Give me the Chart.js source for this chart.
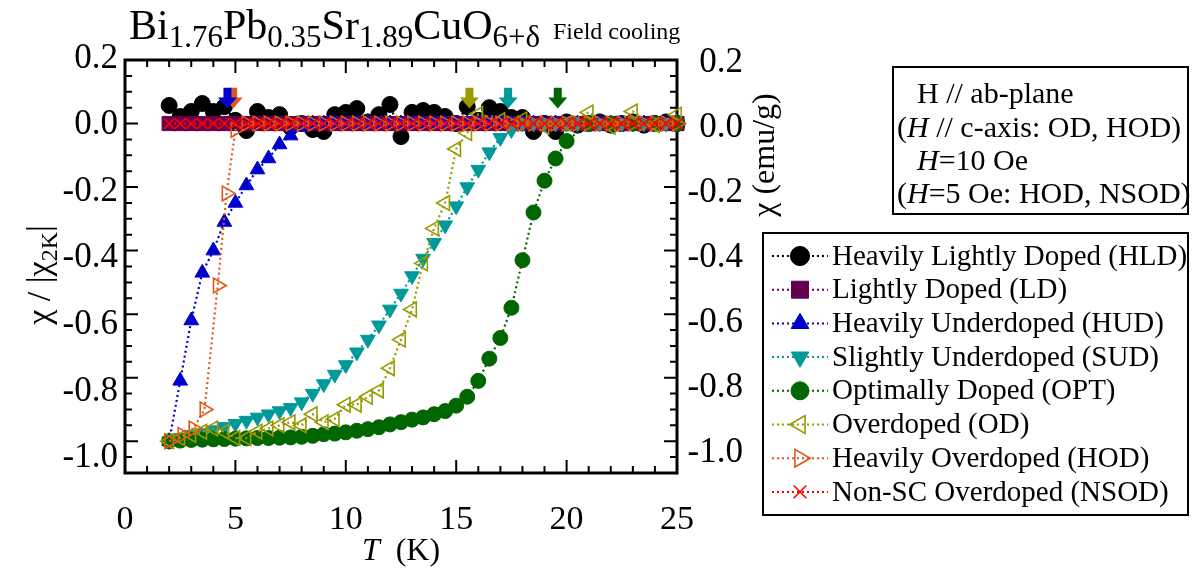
<!DOCTYPE html>
<html>
<head>
<meta charset="utf-8">
<title>Bi2201 field cooling</title>
<script src="https://cdn.jsdelivr.net/npm/chart.js@4.4.1/dist/chart.umd.min.js"></script>
<style>
  html, body { margin: 0; padding: 0; background: #fff; }
  #box { width: 1199px; height: 570px; }
</style>
</head>
<body>
<div id="box"><canvas id="chiChart"></canvas></div>
<script>
// temperature grid (K) shared by most samples
const tGrid = [2, 2.5, 3, 3.5, 4, 4.5, 5, 5.5, 6, 6.5, 7, 7.5, 8, 8.5, 9, 9.5, 10, 10.5, 11, 11.5,
  12, 12.5, 13, 13.5, 14, 14.5, 15, 15.5, 16, 16.5, 17, 17.5, 18, 18.5, 19, 19.5, 20, 20.5, 21, 21.5,
  22, 22.5, 23, 23.5, 24, 24.5, 25];

const hldValues = [0.057, 0.022, 0.038, 0.063, 0.038, 0.053, 0.010, -0.022, 0.038, 0.019,
  0.028, -0.012, 0.000, -0.019, -0.025, 0.028, 0.035, 0.047, 0.005, 0.028,
  0.060, -0.041, 0.035, 0.041, 0.035, 0.022, 0.000, 0.053, 0.010, 0.050,
  0.038, 0.019, 0.019, -0.025, 0.000, -0.025, 0.005, -0.005, 0.000, 0.005,
  -0.005, 0.000, 0.005, -0.005, 0.000, 0.005, 0.000];

const ldValues = [0, 0, 0, 0, 0, 0, 0, 0, 0, 0, 0, 0, 0, 0, 0, 0, 0, 0, 0, 0,
  0, 0, 0, 0, 0, 0, 0, 0, 0, 0, 0, 0, 0, 0, 0, 0, 0, 0, 0, 0, 0, 0, 0, 0, 0, 0, 0];

const hudValues = [-1.0, -0.81, -0.62, -0.47, -0.40, -0.31, -0.25, -0.195, -0.145, -0.11,
  -0.066, -0.038, -0.01, 0, 0, 0, 0, 0, 0, 0,
  0, 0, 0, 0, 0, 0, 0, 0, 0, 0, 0, 0, 0, 0, 0, 0, 0, 0, 0, 0, 0, 0, 0, 0, 0, 0, 0];

const sudValues = [-1.0, -0.99, -0.98, -0.975, -0.965, -0.955, -0.945, -0.935, -0.925, -0.915,
  -0.905, -0.895, -0.877, -0.85, -0.82, -0.79, -0.76, -0.72, -0.68, -0.635,
  -0.585, -0.535, -0.48, -0.425, -0.375, -0.32, -0.26, -0.2, -0.145, -0.09,
  -0.045, -0.02, 0, 0, 0, 0, 0, 0, 0, 0, 0, 0, 0, 0, 0, 0, 0];

const optT = [2, 2.5, 3, 3.5, 4, 4.5, 5, 5.5, 6, 6.5, 7, 7.5, 8, 8.5, 9, 9.5, 10, 10.5, 11, 11.5,
  12, 12.5, 13, 13.5, 14, 14.5, 15, 15.5, 16, 16.5, 17, 17.5, 18, 18.5, 19, 19.5, 20,
  21, 22, 23, 24, 25];
const optValues = [-1.0, -0.998, -0.996, -0.995, -0.994, -0.993, -0.992, -0.991, -0.990, -0.990,
  -0.989, -0.988, -0.986, -0.983, -0.978, -0.976, -0.972, -0.967, -0.962, -0.956,
  -0.947, -0.940, -0.932, -0.925, -0.915, -0.905, -0.888, -0.860, -0.810, -0.740,
  -0.675, -0.580, -0.430, -0.280, -0.180, -0.110, -0.055,
  0, 0, 0, 0, 0];

const odT = [2, 2.5, 3, 3.5, 4, 4.5, 5, 5.5, 6, 6.5, 7, 7.5, 8, 8.5, 9, 9.5, 10, 10.5, 11, 11.5,
  12, 12.5, 13, 13.5, 14, 14.5, 15, 15.5, 16,
  17, 18, 19, 20, 21, 22, 23, 24, 25];
const odValues = [-1.0, -0.99, -0.98, -0.97, -0.96, -0.97, -0.99, -0.99, -0.97, -0.96,
  -0.95, -0.94, -0.95, -0.915, -0.94, -0.93, -0.885, -0.885, -0.86, -0.84,
  -0.77, -0.68, -0.585, -0.44, -0.33, -0.25, -0.08, -0.03, 0.03,
  0.01, 0.013, -0.01, 0.0, 0.035, -0.01, 0.038, -0.005, 0.028];

const hodT = [2, 2.6, 3.1, 3.6, 4.2, 4.6, 5, 5.5, 6, 6.5, 7, 7.5, 8, 8.5, 9, 9.5, 10, 10.5, 11, 11.5,
  12, 12.5, 13, 13.5, 14, 14.5, 15, 15.5, 16, 16.5, 17, 17.5, 18, 18.5, 19, 19.5, 20, 20.5, 21, 21.5,
  22, 22.5, 23, 23.5, 24, 24.5, 25];
const hodValues = [-1.0, -0.98, -0.96, -0.90, -0.51, -0.22, -0.02, 0, 0, 0,
  0, 0, 0, 0, 0, 0, 0, 0, 0, 0, 0, 0, 0, 0, 0, 0, 0, 0, 0, 0,
  0, 0, 0, 0, 0, 0, 0, 0, 0, 0, 0, 0, 0, 0, 0, 0, 0];

const nsodValues = [0, 0, 0, 0, 0, 0, 0, 0, 0, 0, 0, 0, 0, 0, 0, 0, 0, 0, 0, 0,
  0, 0, 0, 0, 0, 0, 0, 0, 0, 0, 0, 0, 0, 0, 0, 0, 0, 0, 0, 0, 0, 0, 0, 0, 0, 0, 0];

const seriesNames = ["Heavily Lightly Doped (HLD)", "Lightly Doped (LD)", "Heavily Underdoped (HUD)",
  "Slightly Underdoped (SUD)", "Optimally Doped (OPT)", "Overdoped (OD)",
  "Heavily Overdoped (HOD)", "Non-SC Overdoped (NSOD)"];

// Tc arrows at the top of the plot
const tcArrowT = [4.9, 4.64, 15.6, 17.35, 19.6];
const tcArrowColors = ["#dd5a1a", "#0000cc", "#999900", "#009999", "#006600"];

const xTickValues = [0, 5, 10, 15, 20, 25];
const yTickValues = [0.2, 0.0, -0.2, -0.4, -0.6, -0.8, -1.0];

const FONT = "'Liberation Serif', 'DejaVu Serif', serif";

function pts(ts, vs) {
  return ts.map((t, i) => ({ x: t, y: vs[i] }));
}

function series(i, ts, vs, color, style, radius, rotation, open) {
  return {
    label: seriesNames[i],
    data: pts(ts, vs),
    yAxisID: "y",
    showLine: true,
    borderColor: color,
    borderWidth: 2.2,
    borderDash: [2, 3],
    backgroundColor: open ? "rgba(0,0,0,0)" : color,
    pointStyle: style,
    pointRadius: radius,
    pointRotation: rotation,
    pointBorderColor: color,
    pointBackgroundColor: open ? "rgba(0,0,0,0)" : color,
    pointBorderWidth: open || style === "crossRot" ? 1.6 : 1,
    order: 8 - i,
    clip: false,
    tension: 0
  };
}

const datasets = [
  series(0, tGrid, hldValues, "#000000", "circle", 8, 0, false),
  series(1, tGrid, ldValues, "#640050", "rect", 10, 0, false),
  series(2, tGrid, hudValues, "#0000cc", "triangle", 8.5, 0, false),
  series(3, tGrid, sudValues, "#009999", "triangle", 8.5, 180, false),
  series(4, optT, optValues, "#006600", "circle", 7.5, 0, false),
  series(5, odT, odValues, "#999900", "triangle", 8.5, -90, true),
  series(6, hodT, hodValues, "#dd5a1a", "triangle", 8.5, 90, true),
  series(7, tGrid, nsodValues, "#ff0000", "crossRot", 7.5, 0, true)
];

// draw text made of pieces (sub/italic)
function richWidth(ctx, parts) {
  let w = 0;
  parts.forEach(p => { ctx.font = p.font; w += ctx.measureText(p.t).width; });
  return w;
}
function drawRich(ctx, parts, x, y) {
  parts.forEach(p => {
    ctx.font = p.font;
    ctx.fillText(p.t, x, y + (p.dy || 0));
    x += ctx.measureText(p.t).width;
  });
}

const decor = {
  id: "decor",
  beforeDatasetsDraw(chart) {
    const { ctx, chartArea: a, scales: { x, y } } = chart;
    ctx.save();
    ctx.strokeStyle = "#000";
    ctx.lineWidth = 2;
    ctx.beginPath();
    for (let t = 1; t < 25; t++) {
      const px = x.getPixelForValue(t);
      const len = t % 5 === 0 ? 13 : 7;
      ctx.moveTo(px, a.bottom); ctx.lineTo(px, a.bottom - len);
      ctx.moveTo(px, a.top); ctx.lineTo(px, a.top + len);
    }
    for (let k = -21; k <= 3; k++) {
      const v = k * 0.05;
      const py = y.getPixelForValue(v);
      const len = k % 4 === 0 ? 13 : 7;
      ctx.moveTo(a.left, py); ctx.lineTo(a.left + len, py);
      ctx.moveTo(a.right, py); ctx.lineTo(a.right - len, py);
    }
    ctx.stroke();
    ctx.lineWidth = 3;
    ctx.strokeRect(a.left, a.top, a.right - a.left, a.bottom - a.top);
    ctx.restore();
  },
  afterDatasetsDraw(chart) {
    const { ctx, scales: { x, y } } = chart;
    const tip = y.getPixelForValue(0.047);
    const neck = y.getPixelForValue(0.082);
    const top = y.getPixelForValue(0.113);
    ctx.save();
    tcArrowT.forEach((t, i) => {
      const px = x.getPixelForValue(t);
      ctx.fillStyle = tcArrowColors[i];
      ctx.beginPath();
      ctx.moveTo(px - 4, top); ctx.lineTo(px + 4, top); ctx.lineTo(px + 4, neck);
      ctx.lineTo(px + 9.5, neck); ctx.lineTo(px, tip); ctx.lineTo(px - 9.5, neck);
      ctx.lineTo(px - 4, neck); ctx.closePath();
      ctx.fill();
    });
    ctx.restore();
  },
  afterDraw(chart) {
    const { ctx } = chart;
    ctx.save();
    ctx.fillStyle = "#000";
    ctx.textBaseline = "alphabetic";
    ctx.textAlign = "left";

    // title
    const big = "42px " + FONT, sub = "31px " + FONT;
    drawRich(ctx, [
      { t: "Bi", font: big }, { t: "1.76", font: sub, dy: 8 },
      { t: "Pb", font: big }, { t: "0.35", font: sub, dy: 8 },
      { t: "Sr", font: big }, { t: "1.89", font: sub, dy: 8 },
      { t: "CuO", font: big }, { t: "6+\u03b4", font: sub, dy: 8 }
    ], 129, 39);
    ctx.font = "24px " + FONT;
    ctx.fillText("Field cooling", 553, 39);

    // x title
    const xt = [{ t: "T", font: "italic 32px " + FONT }, { t: "  (K)", font: "32px " + FONT }];
    drawRich(ctx, xt, 401 - richWidth(ctx, xt) / 2, 560);

    // left y title
    const lt = [{ t: "\u03c7 / |\u03c7", font: "34px " + FONT }, { t: "2K", font: "24px " + FONT, dy: 7 },
      { t: "|", font: "34px " + FONT }];
    ctx.save();
    ctx.translate(50, 275);
    ctx.rotate(-Math.PI / 2);
    drawRich(ctx, lt, -richWidth(ctx, lt) / 2, 0);
    ctx.restore();

    // right y title
    const rt = [{ t: "\u03c7 (emu/g)", font: "32px " + FONT }];
    ctx.save();
    ctx.translate(774, 155);
    ctx.rotate(-Math.PI / 2);
    drawRich(ctx, rt, -richWidth(ctx, rt) / 2, 0);
    ctx.restore();

    // field info box
    ctx.lineWidth = 2;
    ctx.strokeStyle = "#000";
    ctx.strokeRect(893, 67, 295, 147);
    const f = "30px " + FONT, fi = "italic 30px " + FONT;
    drawRich(ctx, [{ t: "H // ab-plane", font: f }], 917, 103);
    drawRich(ctx, [{ t: "(", font: f }, { t: "H", font: fi }, { t: " // c-axis: OD, HOD)", font: f }], 897, 137);
    drawRich(ctx, [{ t: "H", font: fi }, { t: "=10 Oe", font: f }], 917, 170);
    drawRich(ctx, [{ t: "(", font: f }, { t: "H", font: fi }, { t: "=5 Oe: HOD, NSOD)", font: f }], 897, 203);

    // legend
    ctx.strokeRect(763, 233, 425, 282);
    chart.data.datasets.forEach((ds, i) => {
      const cy = 256 + i * 33.7;
      ctx.save();
      ctx.strokeStyle = ds.borderColor;
      ctx.lineWidth = 2;
      ctx.setLineDash([2, 3]);
      ctx.beginPath();
      ctx.moveTo(772, cy); ctx.lineTo(828, cy);
      ctx.stroke();
      ctx.setLineDash([]);
      ctx.fillStyle = ds.pointBackgroundColor;
      ctx.strokeStyle = ds.pointBorderColor;
      ctx.lineWidth = ds.pointBorderWidth;
      Chart.helpers.drawPoint(ctx, {
        pointStyle: ds.pointStyle, radius: ds.pointRadius * 1.2,
        rotation: ds.pointRotation, borderWidth: ds.pointBorderWidth
      }, 800, cy);
      ctx.restore();
      ctx.fillStyle = "#000";
      ctx.font = "29px " + FONT;
      ctx.textBaseline = "middle";
      ctx.fillText(ds.label, 832, cy + 1);
    });
    ctx.restore();
  }
};

function fixedTicks(values) {
  return scale => { scale.ticks = values.map(v => ({ value: v })); };
}

const ctx = document.getElementById("chiChart").getContext("2d");
new Chart(ctx, {
  type: "line",
  data: { datasets: datasets },
  options: {
    responsive: true,
    maintainAspectRatio: false,
    animation: false,
    events: [],
    layout: { padding: { top: 60, right: 456, left: 0, bottom: 0 } },
    plugins: { legend: { display: false }, title: { display: false }, tooltip: { enabled: false } },
    scales: {
      x: {
        type: "linear", min: 0, max: 25,
        afterBuildTicks: fixedTicks(xTickValues),
        afterFit: s => { s.height = 97; },
        grid: { display: false, drawTicks: false },
        border: { display: false },
        ticks: { autoSkip: false, maxRotation: 0, padding: 27, color: "#000",
          font: { family: FONT, size: 34 }, callback: v => String(v) }
      },
      y: {
        type: "linear", min: -1.1, max: 0.2, display: false
      },
      yl: {
        type: "linear", position: "left", min: -1.045, max: 0.195,
        afterBuildTicks: fixedTicks(yTickValues),
        afterFit: s => { s.width = 125; },
        grid: { display: false, drawTicks: false },
        border: { display: false },
        ticks: { autoSkip: false, padding: 7, color: "#000",
          font: { family: FONT, size: 35 }, callback: v => v.toFixed(1) }
      },
      yr: {
        type: "linear", position: "right", min: -1.062, max: 0.209,
        afterBuildTicks: fixedTicks(yTickValues),
        afterFit: s => { s.width = 66; },
        grid: { display: false, drawTicks: false },
        border: { display: false },
        ticks: { autoSkip: false, crossAlign: "far", color: "#000",
          font: { family: FONT, size: 35 }, callback: v => v.toFixed(1) }
      }
    }
  },
  plugins: [decor]
});
</script>
</body>
</html>
